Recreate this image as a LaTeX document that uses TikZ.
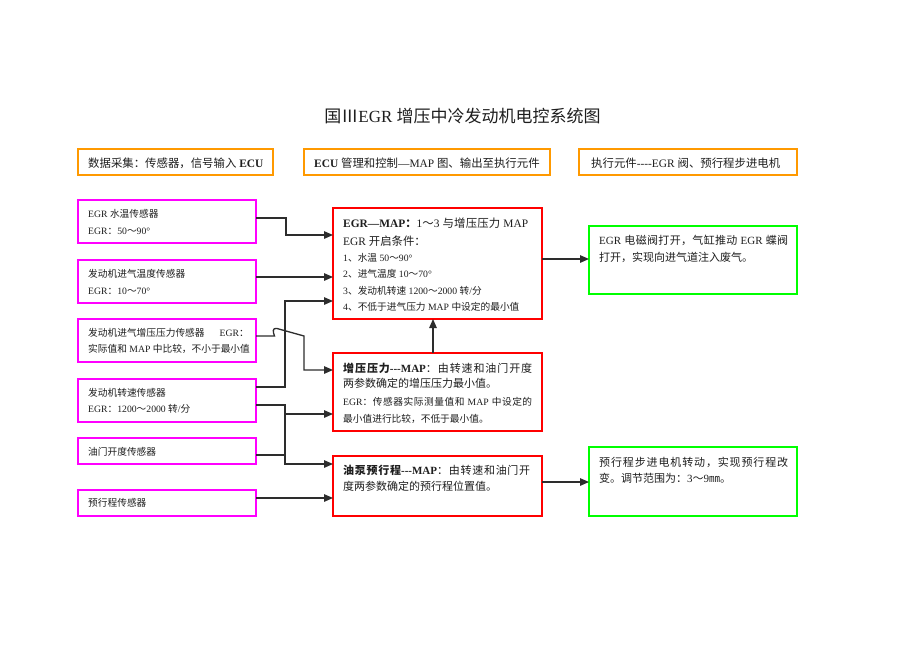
\documentclass[tikz,border=0pt]{standalone}
\usepackage{fontspec}
\setmainfont{Liberation Serif}
\newfontfamily\cjkfont{Noto Sans CJK SC}
\usetikzlibrary{arrows.meta}
% --- automatic switch to the CJK font for Chinese characters ---
\makeatletter
\ifdefined\e@alloc@intercharclass@top
  \chardef\cjkbound=\e@alloc@intercharclass@top
\else
  \chardef\cjkbound=4095
\fi
\makeatother
\XeTeXinterchartokenstate=1
\newXeTeXintercharclass\CJKcls
\newcount\cjkc
\newcommand\setcharclassrange[3]{\cjkc=#1\relax
  \loop \XeTeXcharclass\cjkc=#3\relax
  \ifnum\cjkc<#2\relax \advance\cjkc by 1\relax \repeat}
\setcharclassrange{"0080}{"2FFF}{0}
\setcharclassrange{"2160}{"217F}{\CJKcls}
\setcharclassrange{"3000}{"303F}{\CJKcls}
\setcharclassrange{"3300}{"33FF}{\CJKcls}
\setcharclassrange{"4E00}{"9FFF}{\CJKcls}
\setcharclassrange{"FF00}{"FFEF}{\CJKcls}
\XeTeXinterchartoks 0 \CJKcls = {\cjkfont}
\XeTeXinterchartoks \cjkbound \CJKcls = {\cjkfont}
\XeTeXinterchartoks \CJKcls 0 = {\rmfamily}
\XeTeXinterchartoks \CJKcls \cjkbound = {\rmfamily}
\XeTeXinterchartoks \CJKcls \CJKcls = {\hskip 0pt plus 1pt\relax}
\newcommand\hy{\mbox{-}}
\definecolor{orangeb}{RGB}{255,153,0}
\definecolor{magb}{RGB}{255,0,255}
\definecolor{redb}{RGB}{255,0,0}
\definecolor{greenb}{RGB}{0,255,0}
\definecolor{linec}{RGB}{45,45,45}
\definecolor{textc}{RGB}{30,30,30}
\tikzset{
  boxbase/.style={draw, inner sep=0pt, outer sep=0pt},
  headbox/.style={boxbase, draw=orangeb, line width=2.5pt, minimum height=26pt},
  sensbox/.style={boxbase, draw=magb, line width=1.8pt, minimum width=178pt},
  redbox/.style={boxbase, draw=redb, line width=1.8pt, minimum width=209pt},
  greenbox/.style={boxbase, draw=greenb, line width=1.8pt, minimum width=208pt},
  txt/.style={inner sep=0pt, anchor=base west, text=textc},
  ftitle/.style={font=\fontsize{17}{20}\selectfont},
  fhead/.style={font=\fontsize{11.4}{14}\selectfont},
  fmain/.style={font=\fontsize{11}{14}\selectfont},
  fsmall/.style={font=\fontsize{9.7}{12}\selectfont},
  conn/.style={draw=linec, line width=1.3pt},
  arr/.style={conn, -{Triangle[length=9pt,width=7.5pt]}},
}
\begin{document}
\begin{tikzpicture}[x=1pt,y=-1pt]
\fill[white] (0,0) rectangle (920,651);
\useasboundingbox (0,0) rectangle (920,651);

% title
\node[txt, ftitle, anchor=base] (title) at (462.5,122.5) {国ⅢEGR 增压中冷发动机电控系统图};

% header boxes
\node[headbox, minimum width=195pt] (H1) at (175.5,162) {};
\node[headbox, minimum width=246pt] (H2) at (427,162) {};
\node[headbox, minimum width=218pt] (H3) at (688,162) {};
\node[txt, fhead] (h1t) at (88,167) {数据采集：传感器，信号输入 \textbf{ECU}};
\node[txt, fhead] (h2t) at (314,167) {\textbf{ECU} 管理和控制—MAP 图、输出至执行元件};
\node[txt, fhead] (h3t) at (591,167) {执行元件\hy\hy\hy\hy EGR 阀、预行程步进电机};

% sensor boxes
\node[sensbox, minimum height=43pt] (S1) at (167,221.5) {};
\node[sensbox, minimum height=43pt] (S2) at (167,281.5) {};
\node[sensbox, minimum height=43pt] (S3) at (167,340.5) {};
\node[sensbox, minimum height=43pt] (S4) at (167,400.5) {};
\node[sensbox, minimum height=26pt] (S5) at (167,451) {};
\node[sensbox, minimum height=26pt] (S6) at (167,503) {};
\node[txt, fsmall] (s1a) at (88,217.7) {EGR 水温传感器};
\node[txt, fsmall] (s1b) at (88,234.7) {EGR：50～90°};
\node[txt, fsmall] (s2a) at (88,277.7) {发动机进气温度传感器};
\node[txt, fsmall] (s2b) at (88,294.7) {EGR：10～70°};
\node[txt, fsmall] (s3a) at (88,336.7) {发动机进气增压压力传感器\hspace{15pt}EGR：};
\node[txt, fsmall] (s3b) at (88,352.7) {实际值和 MAP 中比较，不小于最小值};
\node[txt, fsmall] (s4a) at (88,396.7) {发动机转速传感器};
\node[txt, fsmall] (s4b) at (88,412.7) {EGR：1200～2000 转/分};
\node[txt, fsmall] (s5a) at (88,455.5) {油门开度传感器};
\node[txt, fsmall] (s6a) at (88,506.7) {预行程传感器};

% ECU boxes
\node[redbox, minimum height=111pt] (R1) at (437.5,263.5) {};
\node[redbox, minimum height=78pt] (R2) at (437.5,392) {};
\node[redbox, minimum height=60pt] (R3) at (437.5,486) {};
\node[txt, fhead] (r1a) at (343,227.3) {\hbox to 185pt{\textbf{EGR—MAP：}1～3 与增压压力 MAP}};
\node[txt, fhead] (r1b) at (343,245.3) {EGR 开启条件：};
\node[txt, fsmall] (r1c) at (343,261.7) {1、水温 50～90°};
\node[txt, fsmall] (r1d) at (343,277.7) {2、进气温度 10～70°};
\node[txt, fsmall] (r1e) at (343,294.7) {3、发动机转速 1200～2000 转/分};
\node[txt, fsmall] (r1f) at (343,310.7) {4、不低于进气压力 MAP 中设定的最小值};
\node[txt, fmain] (r2a) at (343,372) {\hbox to 189pt{\textbf{增压压力\hy\hy\hy MAP}：由转速和油门开度}};
\node[txt, fmain] (r2b) at (343,387.5) {两参数确定的增压压力最小值。};
\node[txt, fsmall] (r2c) at (343,405.4) {\hbox to 189pt{EGR：传感器实际测量值和 MAP 中设定的}};
\node[txt, fsmall] (r2d) at (343,422) {最小值进行比较，不低于最小值。};
\node[txt, fmain] (r3a) at (343,474.2) {\hbox to 187pt{\textbf{油泵预行程\hy\hy\hy MAP}：由转速和油门开}};
\node[txt, fmain] (r3b) at (343,490.2) {度两参数确定的预行程位置值。};

% actuator boxes
\node[greenbox, minimum height=68pt] (G1) at (693,260) {};
\node[greenbox, minimum height=69pt] (G2) at (693,481.5) {};
\node[txt, fmain] (g1a) at (599,244.2) {\hbox to 189pt{EGR 电磁阀打开，气缸推动 EGR 蝶阀}};
\node[txt, fmain] (g1b) at (599,261.2) {打开，实现向进气道注入废气。};
\node[txt, fmain] (g2a) at (599,466.2) {\hbox to 189pt{预行程步进电机转动，实现预行程改}};
\node[txt, fmain] (g2b) at (599,482.2) {变。调节范围为：3～9㎜。};

% connectors
\coordinate (s1o) at ([yshift=3.5pt]S1.east);
\coordinate (r1i1) at ([yshift=28.5pt]R1.west);
\draw[arr] (s1o) -- ++(30,0) |- (r1i1);

\coordinate (s2o) at ([yshift=4.5pt]S2.east);
\draw[arr] (s2o) -- (s2o -| R1.west);

\coordinate (jn) at ([xshift=29pt]S4.east);
\coordinate (s4u) at ([yshift=13.5pt]S4.east);
\coordinate (r1i3) at ([yshift=-37.5pt]R1.west);
\draw[arr] (s4u) -- (s4u -| jn) |- (r1i3);

\coordinate (s4l) at ([yshift=-4.5pt]S4.east);
\coordinate (r3i) at ([yshift=22pt]R3.west);
\draw[arr] (s4l) -- (s4l -| jn) |- (r3i);

\coordinate (r2i2) at ([yshift=-22pt]R2.west);
\draw[arr] (r2i2 -| jn) -- (r2i2);

\coordinate (s5o) at ([yshift=-4pt]S5.east);
\draw[conn] (s5o) -- (s5o -| jn);

\coordinate (s6o) at ([yshift=5pt]S6.east);
\draw[arr] (s6o) -- (s6o -| R3.west);

\coordinate (s3o) at ([yshift=4.5pt]S3.east);
\coordinate (r2i1) at ([yshift=22pt]R2.west);
\draw[arr] (s3o) -- (274.5,336) .. controls (273,332) and (272,327.5) .. (277,328.5) -- (304,336) |- (r2i1);

\draw[arr] ([xshift=-4.5pt]R2.north) -- ([xshift=-4.5pt]R1.south);

\coordinate (r1o) at ([yshift=4.5pt]R1.east);
\draw[arr] (r1o) -- (r1o -| G1.west);

\coordinate (r3o) at ([yshift=4pt]R3.east);
\draw[arr] (r3o) -- (r3o -| G2.west);
\end{tikzpicture}
\end{document}
